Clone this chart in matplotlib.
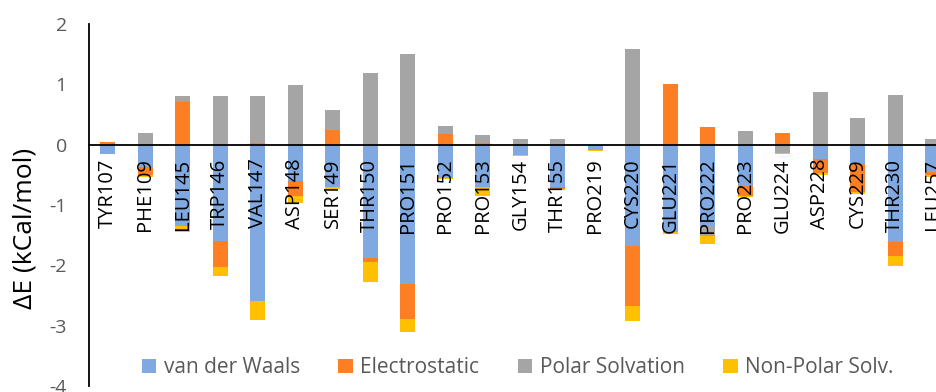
import matplotlib
matplotlib.use("Agg")
import matplotlib.pyplot as plt
import numpy as np

plt.rcParams['font.family'] = ['Open Sans', 'DejaVu Sans']
plt.rcParams['axes.unicode_minus'] = False

residues = ['TYR107', 'PHE109', 'LEU145', 'TRP146', 'VAL147', 'ASP148', 'SER149',
            'THR150', 'PRO151', 'PRO152', 'PRO153', 'GLY154', 'THR155', 'PRO219',
            'CYS220', 'GLU221', 'PRO222', 'PRO223', 'GLU224', 'ASP228', 'CYS229',
            'THR230', 'LEU257']

vdw = [-0.15, -0.37, -1.35, -1.59, -2.59, -0.60, -0.70, -1.88, -2.31, -0.55, -0.71, -0.17,
       -0.71, -0.09, -1.68, -1.45, -1.34, -0.68, 0.00, -0.23, -0.32, -1.62, -0.45]
elec = [0.05, -0.14, 0.71, -0.43, 0.02, -0.25, 0.24, -0.06, -0.58, 0.17, 0.03, 0.00,
        -0.03, 0.00, -1.00, 1.00, 0.30, -0.17, 0.19, -0.24, -0.47, -0.22, -0.05]
polar = [0.00, 0.20, 0.09, 0.80, 0.78, 0.99, 0.33, 1.18, 1.51, 0.14, 0.13, 0.10,
         0.10, 0.00, 1.58, 0.00, -0.17, 0.23, -0.14, 0.87, 0.45, 0.82, 0.09]
nonpolar = [-0.01, -0.02, -0.09, -0.15, -0.32, -0.11, -0.03, -0.34, -0.21, -0.02, -0.14, -0.01,
            -0.01, -0.02, -0.25, -0.03, -0.13, -0.02, -0.01, -0.04, -0.03, -0.17, -0.04]

series = [('van der Waals', vdw, '#7FA9E0'),
          ('Electrostatic', elec, '#FD7E23'),
          ('Polar Solvation', polar, '#A5A5A5'),
          ('Non-Polar Solv.', nonpolar, '#FFC000')]

fig = plt.figure(figsize=(9.37, 3.92), dpi=100)
# plot area runs a little past the right edge, so the last bar is clipped
ax = fig.add_axes([0.095, 0.0153, 0.9205, 0.9235])

x = np.arange(len(residues))
pos_base = np.zeros(len(residues))
neg_base = np.zeros(len(residues))
for name, vals, col in series:
    v = np.array(vals)
    bottom = np.where(v >= 0, pos_base, neg_base)
    ax.bar(x, v, 0.4, bottom=bottom, color=col, label=name, zorder=1)
    pos_base += np.where(v >= 0, v, 0)
    neg_base += np.where(v < 0, v, 0)

ax.set_xlim(-0.5, len(residues) - 0.5)
ax.set_ylim(-4, 2)
ax.set_yticks(range(-4, 3))
ax.tick_params(axis='y', length=0, labelsize=14, labelcolor='#595959', pad=16)

# category axis sits on the zero line
ax.spines['bottom'].set_position(('data', 0))
ax.spines['bottom'].set_linewidth(1.3)
ax.spines['left'].set_linewidth(1.3)
ax.spines['top'].set_visible(False)
ax.spines['right'].set_visible(False)
ax.set_xticks(x)
ax.set_xticklabels(residues, rotation=90, fontsize=14.5, color='black')
ax.tick_params(axis='x', length=0, pad=10)

ax.set_ylabel('ΔE (kCal/mol)', fontsize=19, color='black')
ax.yaxis.set_label_coords(-0.060, 0.435)

ax.legend(loc='center', bbox_to_anchor=(0.497, 0.05), ncol=4, frameon=False,
          fontsize=15, labelcolor='#595959', handlelength=0.7, handleheight=0.7,
          handletextpad=0.35, columnspacing=1.85)

fig.savefig('out.png', dpi=100)
